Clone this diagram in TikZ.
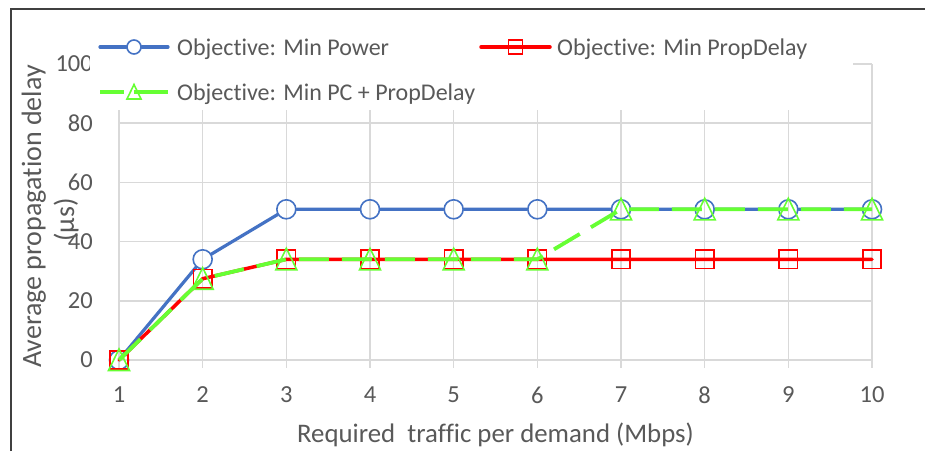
\documentclass[tikz,border=0pt]{standalone}
\usepackage{fontspec}
\setmainfont{Carlito}[Ligatures={NoCommon}]
\usetikzlibrary{shapes.geometric}
\definecolor{txt}{HTML}{595959}
\definecolor{grd}{HTML}{D9D9D9}
\definecolor{bl}{HTML}{4472C4}
\definecolor{rd}{HTML}{FF0000}
\definecolor{gr}{HTML}{66FF33}
\definecolor{frm}{HTML}{404040}
\tikzset{
  gridline/.style={draw=grd, line width=1.5},
  ticklbl/.style={text=txt, inner sep=0, font=\fontsize{24.5}{28}\selectfont},
  legtxt/.style={text=txt, inner sep=0, anchor=base west, font=\fontsize{24}{28}\selectfont},
  titlelbl/.style={text=txt, inner sep=0, font=\fontsize{26.8}{30}\selectfont},
  ytitlelbl/.style={text=txt, inner sep=0, font=\fontsize{28}{32}\selectfont},
  bline/.style={draw=bl, line width=3.2, line cap=round, line join=round},
  rline/.style={draw=rd, line width=3.5, line cap=round, line join=round},
  gline/.style={draw=gr, line width=3.8, dash pattern=on 30 off 13},
  bmark/.style={circle, draw=bl, line width=1.6, minimum size=19, inner sep=0},
  rmark/.style={rectangle, draw=rd, line width=1.6, minimum size=18.5, inner sep=0},
  gmark/.style={draw=gr, line width=1.6, line join=miter},
}
\begin{document}
\begin{tikzpicture}[x=1pt,y=-1pt]
\useasboundingbox (0,0) rectangle (925,451);
\fill[white] (0,0) rectangle (925,451);
% frame
\draw[frm, line width=1.6] (11,451) -- (11,9) -- (925,9);
% grid
\foreach \v in {0,20,...,100} {
  \draw[gridline] (119,{360-\v*2.9625}) -- (872,{360-\v*2.9625});
  \node[ticklbl, anchor=east] (yl\v) at (93,{360-\v*2.9625}) {\v};
}
\foreach \i in {1,...,10} {
  \draw[gridline] ({119+(\i-1)*83.667},64) -- ({119+(\i-1)*83.667},368);
  \node[ticklbl] (xl\i) at ({119+(\i-1)*83.667},395) {\i};
}
% legend background
\fill[white] (90,22) rectangle (853,110);
% data coordinates
\foreach \i/\b/\r/\g in {1/360/360/360, 2/259.3/278.7/278.7, 3/209.3/259.3/259.3, 4/209.3/259.3/259.3,
  5/209.3/259.3/259.3, 6/209.3/259.3/259.3, 7/209.3/259.3/209.3, 8/209.3/259.3/209.3,
  9/209.3/259.3/209.3, 10/209.3/259.3/209.3} {
  \coordinate (b\i) at ({119+(\i-1)*83.667},\b);
  \coordinate (r\i) at ({119+(\i-1)*83.667},\r);
  \coordinate (g\i) at ({119+(\i-1)*83.667},\g);
}
% blue series
\foreach \i in {1,...,10} { \node[bmark] (B\i) at (b\i) {}; }
\draw[bline] (b1) -- (B2) -- (B3) -- (B4) -- (B5) -- (B6) -- (B7) -- (B8) -- (B9) -- (B10);
% red series
\draw[rline] (r1) -- (r2) -- (r3) -- (r4) -- (r5) -- (r6) -- (r7) -- (r8) -- (r9) -- (r10);
\foreach \i in {1,...,10} { \node[rmark] (R\i) at (r\i) {}; }
% green series
\draw[gline] (g1) -- (g2) -- (g3) -- (g4) -- (g5) -- (g6) -- (g7) -- (g8) -- (g9) -- (g10);
\foreach \i in {1,...,10} {
  \draw[gmark] (g\i) ++(-10.5,10.5) -- ++(10.5,-21.5) -- ++(10.5,21.5) -- cycle;
}
% legend
\coordinate (lba) at (100,47); \coordinate (lbb) at (168,47);
\node[bmark, minimum size=14] (LB) at (134,47) {};
\draw[bline] (lba) -- (LB) -- (lbb);
\node[legtxt] (tb) at (177,55) {Objective: Min Power};
\coordinate (lra) at (481,47); \coordinate (lrb) at (550,47);
\draw[rline] (lra) -- (lrb);
\node[rmark, minimum size=14] (LR) at (515.5,47) {};
\node[legtxt] (tr) at (557,55) {Objective: Min PropDelay};
\coordinate (lga) at (100,92); \coordinate (lgb) at (168,92);
\draw[gline, dash pattern=on 24 off 10 on 34] (lga) -- (lgb);
\draw[gmark] (134,92) ++(-7,7) -- ++(7,-14.5) -- ++(7,14.5) -- cycle;
\node[legtxt] (tg) at (177,100) {Objective: Min PC + PropDelay};
% axis titles
\node[titlelbl, anchor=base] (xt) at (495.5,442) {Required\ \ traffic per demand (Mbps)};
\node[ytitlelbl, rotate=90, anchor=base] (yt1) at (41,216.5) {Average propagation delay};
\node[ytitlelbl, rotate=90, anchor=base] (yt2) at (74,220) {(µs)};
\end{tikzpicture}
\end{document}
